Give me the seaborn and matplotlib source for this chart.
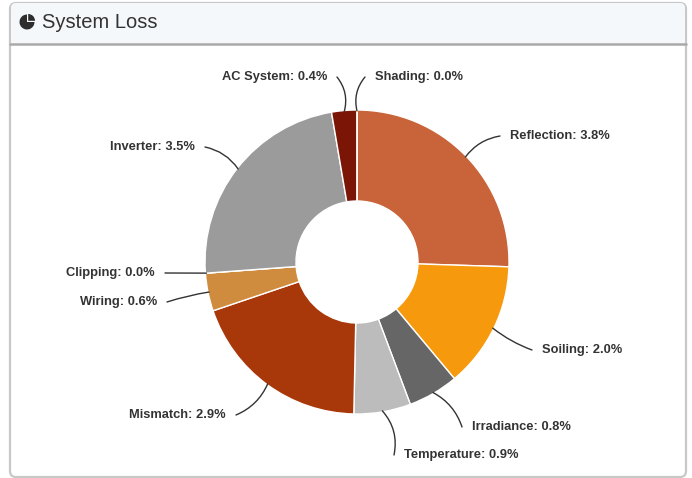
import numpy as np
import matplotlib
matplotlib.use("Agg")
import matplotlib.pyplot as plt
from matplotlib.patches import FancyBboxPatch, Wedge
import seaborn as sns

# Loss breakdown, clockwise from 12 o'clock
categories = ["Reflection", "Soiling", "Irradiance", "Temperature", "Mismatch",
              "Wiring", "Clipping", "Inverter", "AC System", "Shading"]
losses = [3.8, 2.0, 0.8, 0.9, 2.9, 0.6, 0.0, 3.5, 0.4, 0.0]
colors = ["#C9643A", "#F7990C", "#666666", "#BCBCBC", "#A8380A",
          "#CF8B3E", "#D9D9D9", "#9B9B9B", "#7B1606", "#8A8A8A"]

sns.set_theme(style="white")
plt.rcParams["font.family"] = ["Liberation Sans", "DejaVu Sans"]

W, H = 692, 478
fig = plt.figure(figsize=(W / 100, H / 100), dpi=100)
ax = fig.add_axes([0, 0, 1, 1])


def py(y):
    """Top-down pixel row to axis y."""
    return H - y


# panel card with header band
ax.add_patch(FancyBboxPatch((10, py(477)), 676, 474,
                            boxstyle="round,pad=0,rounding_size=6",
                            facecolor="white", edgecolor="#C8C8C8", lw=1.6, zorder=0))
ax.add_patch(FancyBboxPatch((11, py(44)), 674, 41,
                            boxstyle="round,pad=0,rounding_size=5",
                            facecolor="#F5F8FB", edgecolor="none", zorder=1))
ax.plot([10, 686], [py(44), py(44)], color="#A9A9A9", lw=1.8, zorder=2)

# header icon and title
ic = (27, py(22))
ax.add_patch(Wedge(ic, 7.5, 90, 360, facecolor="#2E2E2E", edgecolor="none", zorder=3))
ax.add_patch(Wedge((ic[0] + 1.2, ic[1] + 1.2), 6.8, 0, 90, facecolor="#2E2E2E",
                   edgecolor="none", zorder=3))
ax.text(42, py(22), "System Loss", fontsize=14.5, color="#333333",
        ha="left", va="center", zorder=3)

# donut
cx, cy, R = 357, py(262), 152
wedges, _ = ax.pie(losses, colors=colors, startangle=90, counterclock=False,
                   center=(cx, cy), radius=R, frame=True,
                   wedgeprops=dict(width=R - 61, edgecolor="white", linewidth=1))
ax.set_xlim(0, W)
ax.set_ylim(0, H)
ax.set_axis_off()

# label placement (text anchor, alignment, connector curvature)
label_pos = {
    "Reflection": (510, 136, "left", 0.2),
    "Soiling": (542, 350, "left", -0.08),
    "Irradiance": (472, 427, "left", 0.2),
    "Temperature": (404, 455, "left", 0.25),
    "Mismatch": (226, 415, "right", 0.2),
    "Wiring": (157, 302, "right", -0.04),
    "Clipping": (155, 273, "right", 0.0),
    "Inverter": (195, 147, "right", -0.2),
    "AC System": (327, 77, "right", -0.25),
    "Shading": (375, 77, "left", 0.25),
}

total = sum(losses)
cum = 0.0
for name, val in zip(categories, losses):
    mid = (cum + val / 2) / total
    cum += val
    ang = np.deg2rad(90 - 360 * mid)
    sx, sy = cx + (R - 1) * np.cos(ang), cy + (R - 1) * np.sin(ang)
    tx, ty, ha, rad = label_pos[name]
    ex = tx - 10 if ha == "left" else tx + 10
    ax.annotate("", xy=(sx, sy), xytext=(ex, py(ty)),
                arrowprops=dict(arrowstyle="-", color="#333333", lw=1,
                                shrinkA=0, shrinkB=0,
                                connectionstyle=f"arc3,rad={rad}"), zorder=4)
    ax.text(tx, py(ty), f"{name}: {val:.1f}%", fontsize=9.3, fontweight="bold",
            color="#333333", ha=ha, va="center", zorder=5)

fig.savefig("out.png", dpi=100)
